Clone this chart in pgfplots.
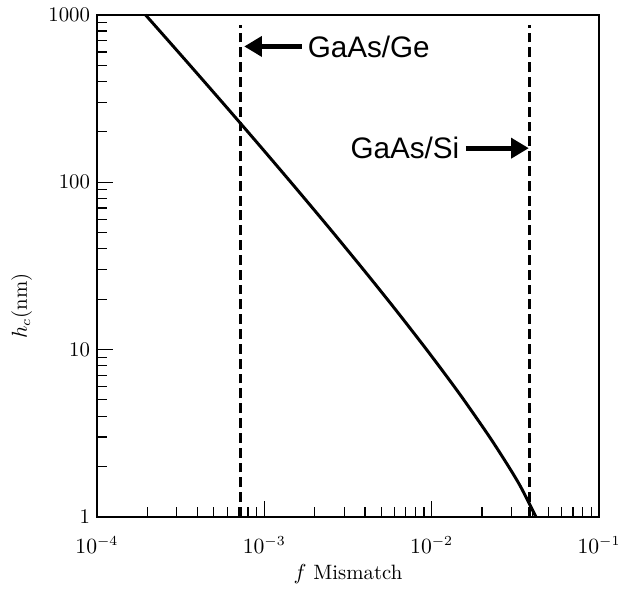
\documentclass[border=0pt]{standalone}
\usepackage{pgfplots}
\pgfplotsset{compat=1.18}
\usepackage{fontspec}
\newfontfamily\arial{Liberation Sans}
\usetikzlibrary{arrows.meta}
\begin{document}
\begin{tikzpicture}
\begin{axis}[
  xmode=log, ymode=log,
  xmin=1e-4, xmax=1e-1, ymin=1, ymax=1000,
  scale only axis, width=254pt, height=254pt,
  axis line style={line width=0.9pt},
  tick align=inside, xtick pos=bottom, ytick pos=left,
  major tick length=8pt, minor tick length=5pt,
  tick style={line width=0.6pt, black},
  xtick={1e-4,1e-3,1e-2,1e-1},
  xticklabels={$10^{-4}$,$10^{-3}$,$10^{-2}$,$10^{-1}$},
  minor xtick={2e-4,3e-4,4e-4,5e-4,6e-4,7e-4,8e-4,9e-4,2e-3,3e-3,4e-3,5e-3,6e-3,7e-3,8e-3,9e-3,2e-2,3e-2,4e-2,5e-2,6e-2,7e-2,8e-2,9e-2},
  ytick={1,10,100,1000},
  yticklabels={1,10,100,1000},
  minor ytick={2,3,4,5,6,7,8,9,20,30,40,50,60,70,80,90,200,300,400,500,600,700,800,900},
  tick label style={font=\fontsize{10.5}{12}\selectfont},
  xticklabel style={yshift=-6.5pt},
  xlabel={$f$ Mismatch},
  ylabel={$h_c$(nm)},
  label style={font=\fontsize{10.5}{12}\selectfont},
  xlabel style={at={(axis description cs:0.5,-0.08)}, anchor=north},
  ylabel style={at={(axis description cs:-0.15,0.42)}, anchor=center},
  clip=false,
]
\path (rel axis cs:-0.193,-0.12) rectangle (rel axis cs:1.041,1.0295);
\addplot[black, line width=1.5pt, smooth] coordinates {
  (1.95e-4,1000) (2.673e-4,700) (3.594e-4,500) (5.614e-4,300) (7.973e-4,200)
  (1.0206e-3,150) (1.441e-3,100) (1.946e-3,70) (2.576e-3,50) (3.917e-3,30)
  (5.428e-3,20) (6.813e-3,15) (9.324e-3,10) (1.2193e-2,7) (1.5585e-2,5)
  (2.221e-2,3) (2.883e-2,2) (3.421e-2,1.5) (4.2e-2,1)
};
\addplot[black, line width=1.5pt, dash pattern=on 5pt off 2.5pt] coordinates {(7.17e-4,1) (7.17e-4,870)};
\addplot[black, line width=1.5pt, dash pattern=on 5pt off 2.5pt] coordinates {(3.87e-2,1) (3.87e-2,870)};
\draw[line width=2.4pt, -{Triangle[length=9pt,width=10pt]}] (axis cs:1.67e-3,647) -- (axis cs:7.59e-4,647);
\node[anchor=west, inner sep=0pt, font=\arial\fontsize{15}{17}\selectfont] at (axis cs:1.81e-3,647) {GaAs/Ge};
\draw[line width=2.4pt, -{Triangle[length=9pt,width=10pt]}] (axis cs:1.60e-2,159.6) -- (axis cs:3.81e-2,159.6);
\node[anchor=east, inner sep=0pt, font=\arial\fontsize{15}{17}\selectfont] at (axis cs:1.472e-2,159.6) {GaAs/Si};
\end{axis}
\end{tikzpicture}
\end{document}
